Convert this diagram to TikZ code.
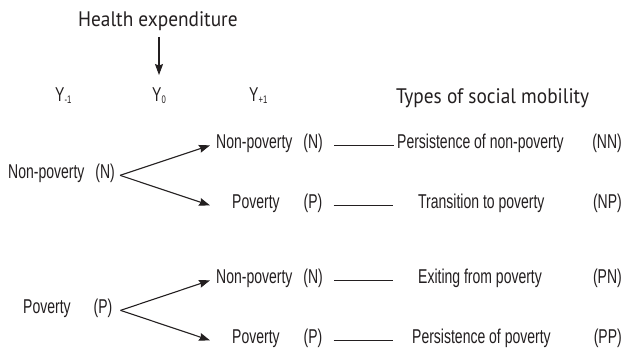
\documentclass[tikz,border=0pt]{standalone}
\usepackage{fontspec}
\setmainfont{Liberation Sans}
\newfontfamily\condf[FakeStretch=0.70]{Liberation Sans}
\newfontfamily\headf[FakeStretch=0.92]{PT Sans}
\usetikzlibrary{arrows.meta}
\definecolor{ink}{RGB}{35,31,32}
\newcommand{\ysub}[1]{\raisebox{-2.5pt}{\fontsize{11}{11}\selectfont #1}}
\begin{document}
\begin{tikzpicture}[x=1pt,y=-1pt,
  lbl/.style={inner sep=0pt, anchor=base west, text=ink, font=\condf\fontsize{20}{22}\selectfont},
  code/.style={lbl, anchor=base east},
  head/.style={inner sep=0pt, anchor=base west, text=ink, font=\headf\fontsize{21}{24}\selectfont},
  arr/.style={draw=ink, line width=1.1pt, -{Stealth[length=11pt,width=8pt,inset=1.5pt]}},
  link/.style={draw=ink, line width=0.9pt}]
\useasboundingbox[fill=white] (0,0) rectangle (625,351);

% headers
\node[head] (health) at (78,26.5) {Health expenditure};
\node[head] (types) at (396,103) {Types of social mobility};

% time labels
\node[lbl] (ym1) at (55,101) {Y\ysub{-1}};
\node[lbl] (y0) at (152,101) {Y\ysub{0}};
\node[lbl] (yp1) at (249,101) {Y\ysub{+1}};

% left states
\node[lbl] (ln) at (8,178) {Non-poverty\hspace{11pt}(N)};
\node[lbl] (lp) at (23,313) {Poverty\hspace{23pt}(P)};

% right states
\node[lbl] (nn) at (216,148) {Non-poverty\hspace{11pt}(N)};
\node[lbl] (np) at (216,208) {\hspace*{16pt}Poverty\hspace{24pt}(P)};
\node[lbl] (pn) at (216,283) {Non-poverty\hspace{11pt}(N)};
\node[lbl] (pp) at (216,343) {\hspace*{16pt}Poverty\hspace{24pt}(P)};

% mobility types
\node[lbl] (tnn) at (397,148) {Persistence of non-poverty};
\node[lbl] (tnp) at (418,208) {Transition to poverty};
\node[lbl] (tpn) at (418,283) {Exiting from poverty};
\node[lbl] (tpp) at (412,343) {Persistence of poverty};

\node[code] (cnn) at (622,148) {(NN)};
\node[code] (cnp) at (622,208) {(NP)};
\node[code] (cpn) at (622,283) {(PN)};
\node[code] (cpp) at (622,343) {(PP)};

% health arrow
\path (health.south -| y0.north) coordinate (hx);
\draw[arr] ([yshift=-6pt]hx) -- ([yshift=12pt]y0.north);

% tree arrows
\draw[arr] ([xshift=5pt]ln.mid east) -- ([xshift=-6pt]nn.mid west);
\draw[arr] ([xshift=5pt]ln.mid east) -- ([xshift=-6pt]np.mid west);
\draw[arr] ([xshift=8pt]lp.mid east) -- ([xshift=-6pt]pn.mid west);
\draw[arr] ([xshift=8pt]lp.mid east) -- ([xshift=-6pt]pp.mid west);

% links
\draw[link] ([xshift=11pt]nn.mid east) -- ([xshift=-3pt]tnn.mid west);
\draw[link] ([xshift=11pt]np.mid east) -- ([xshift=-25pt]tnp.mid west);
\draw[link] ([xshift=11pt]pn.mid east) -- ([xshift=-25pt]tpn.mid west);
\draw[link] ([xshift=11pt]pp.mid east) -- ([xshift=-19pt]tpp.mid west);
\end{tikzpicture}
\end{document}
